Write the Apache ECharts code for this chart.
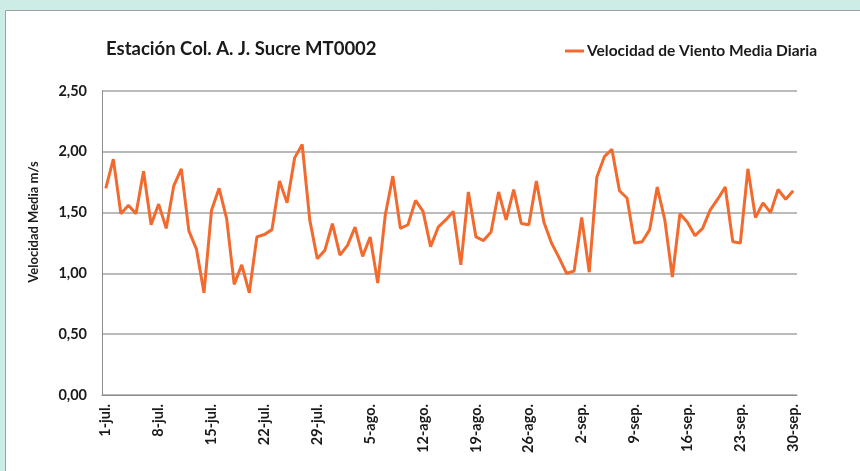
<!DOCTYPE html>
<html>
<head>
<meta charset="utf-8">
<script src="https://cdn.jsdelivr.net/npm/echarts@6/dist/echarts.min.js"></script>
<style>
  html, body { margin: 0; padding: 0; background: #cdece6; }
  #chart { width: 860px; height: 471px; }
</style>
</head>
<body>
<div id="chart"></div>
<script>
"use strict";
// meses del periodo y sus días
var months = ['jul.', 'ago.', 'sep.'];
var monthDays = [31, 31, 30];

var days = [];
months.forEach(function (m, k) {
  for (var d = 1; d <= monthDays[k]; d++) days.push(d + '-' + m);
});

// velocidad media diaria (m/s), 1-jul a 30-sep
var julio = [1.70, 1.94, 1.49, 1.56, 1.49, 1.84, 1.40, 1.57, 1.37, 1.72,
  1.86, 1.35, 1.20, 0.84, 1.52, 1.70, 1.45, 0.91, 1.07, 0.84,
  1.30, 1.32, 1.36, 1.76, 1.58, 1.95, 2.06, 1.44, 1.12, 1.19, 1.41];
var agosto = [1.15, 1.23, 1.38, 1.14, 1.30, 0.92, 1.48, 1.80, 1.37, 1.40,
  1.60, 1.51, 1.22, 1.38, 1.44, 1.51, 1.07, 1.67, 1.30, 1.27,
  1.34, 1.67, 1.44, 1.69, 1.41, 1.40, 1.76, 1.42, 1.25, 1.13, 1.00];
var septiembre = [1.02, 1.46, 1.01, 1.79, 1.96, 2.02, 1.68, 1.62, 1.25, 1.26,
  1.36, 1.71, 1.44, 0.97, 1.49, 1.42, 1.31, 1.37, 1.52, 1.61,
  1.71, 1.26, 1.25, 1.86, 1.46, 1.58, 1.50, 1.69, 1.61, 1.68];
var velocidad = julio.concat(agosto, septiembre);

var yTicks = [0, 0.5, 1, 1.5, 2, 2.5];

var font = 'Lato, "Open Sans", sans-serif';

echarts.init(document.getElementById('chart'))
.setOption({
  backgroundColor: '#cdece6',
  animation: false,
  graphic: [{
    type: 'rect',
    z: -10,
    shape: { x: 5.5, y: 10.5, width: 900, height: 500 },
    style: { fill: '#ffffff', stroke: '#a0a0a0', lineWidth: 1 }
  }, {
    // título del eje Y
    type: 'text',
    x: 34,
    y: 222,
    rotation: Math.PI / 2,
    style: {
      text: 'Velocidad Media m/s',
      align: 'center',
      verticalAlign: 'middle',
      font: 'bold 13px ' + font,
      fill: '#1a1a1a'
    }
  }],
  title: {
    text: 'Estación Col. A. J. Sucre MT0002',
    left: 101,
    top: 35,
    textStyle: {
      fontFamily: font,
      fontWeight: 'bold',
      fontSize: 18.5,
      color: '#1a1a1a'
    }
  },
  legend: {
    data: ['Velocidad de Viento Media Diaria'],
    left: 560,
    top: 38,
    icon: 'rect',
    itemWidth: 19,
    itemHeight: 3,
    textStyle: {
      fontFamily: font,
      fontWeight: 'bold',
      fontSize: 15.5,
      color: '#1a1a1a',
      padding: [0, 0, 0, -2]
    }
  },
  grid: {
    left: 102,
    right: 63,
    top: 91,
    bottom: 76,
    containLabel: false
  },
  xAxis: {
    type: 'category',
    data: days,
    boundaryGap: true,
    axisLine: { lineStyle: { color: '#8c8c8c', width: 1 } },
    axisTick: { show: false },
    axisLabel: {
      interval: 6,
      rotate: 90,
      margin: 9,
      fontFamily: font,
      fontWeight: 'bold',
      fontSize: 14.5,
      color: '#1a1a1a'
    }
  },
  yAxis: {
    type: 'value',
    min: yTicks[0],
    max: yTicks[yTicks.length - 1],
    interval: 0.5,
    axisLine: { show: true, lineStyle: { color: '#8c8c8c', width: 1 } },
    axisTick: { show: false },
    axisLabel: {
      margin: 15,
      fontFamily: font,
      fontWeight: 'bold',
      fontSize: 14.5,
      color: '#1a1a1a',
      formatter: function (v) { return v.toFixed(2).replace('.', ','); }
    },
    splitLine: { lineStyle: { color: '#a3a3a3', width: 1.5 } }
  },
  series: [{
    name: 'Velocidad de Viento Media Diaria',
    type: 'line',
    data: velocidad,
    symbol: 'none',
    color: '#f26a2e',
    lineStyle: { width: 3, color: '#f26a2e' }
  }]
});
</script>
</body>
</html>
